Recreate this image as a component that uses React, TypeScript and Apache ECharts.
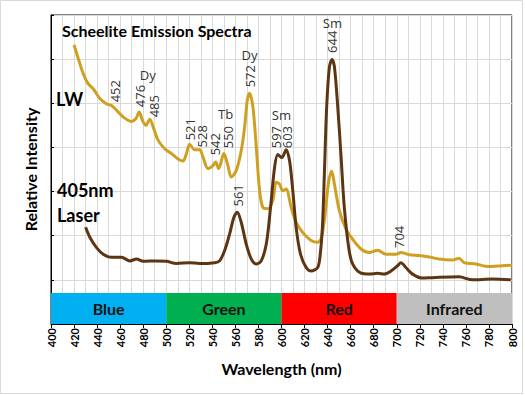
import React, { useEffect, useRef } from "react";
import * as echarts from "echarts";

// LW (long-wave UV) emission spectrum
const lwWavelength = [420, 423.7, 428, 432, 436.6, 442.4, 448, 452.5, 457, 462.6, 469.8, 473.6, 476.5, 479.4, 482.3, 485.7, 489.2, 493, 498.7, 504.5, 510.2, 514.6, 517.5, 520.3, 524.7, 529, 531.9, 536.2, 540.5, 542.9, 545.5, 550, 553.5, 556.4, 560.8, 565.1, 568, 570.3, 572.3, 575.2, 578.1, 581, 583.8, 588.1, 592.5, 595.4, 598.3, 601.1, 604, 608.4, 612.7, 618.5, 625.7, 631.4, 634.5, 637.2, 641, 643.6, 645.9, 650.2, 656, 661.7, 669, 676.2, 683.4, 690.6, 699.3, 703.6, 710.8, 719.5, 728, 736.8, 748.3, 754.1, 758.4, 768.6, 780, 791.6, 800];
const lwIntensity = [5.32, 5.01, 4.67, 4.45, 4.33, 4.11, 3.99, 3.95, 3.84, 3.69, 3.59, 3.65, 3.8, 3.61, 3.5, 3.64, 3.42, 3.16, 2.97, 2.86, 2.74, 2.69, 2.86, 3.07, 2.95, 2.95, 2.78, 2.52, 2.59, 2.67, 2.52, 2.86, 2.59, 2.33, 2.48, 2.93, 3.46, 4.07, 4.23, 3.92, 3.01, 2.02, 1.64, 1.61, 1.8, 2.21, 2.17, 2.02, 2.06, 1.64, 1.3, 1.07, 0.89, 0.85, 0.95, 1.34, 2.25, 2.46, 2.17, 1.57, 1.15, 0.92, 0.7, 0.62, 0.67, 0.58, 0.58, 0.62, 0.57, 0.55, 0.52, 0.47, 0.45, 0.49, 0.39, 0.36, 0.3, 0.32, 0.33];

// 405nm laser emission spectrum
const laserWavelength = [430, 433.8, 439.5, 445.3, 452.5, 461.2, 468.4, 474.2, 479.9, 491.5, 500.2, 508.8, 520.3, 529, 542, 546.3, 550.6, 555, 558.7, 561.6, 565.1, 569.4, 573.8, 578.1, 582.4, 586.8, 590.5, 594, 596.8, 600.3, 604, 607, 609.8, 612.7, 616.5, 621.4, 625.7, 631.4, 633.5, 635.5, 637.2, 639.2, 641.6, 643.9, 645.9, 648.8, 651.7, 654.5, 658.3, 661.7, 669, 676.2, 683.4, 689.2, 695, 700.7, 703.6, 707.9, 713.7, 722.3, 731, 754, 765.6, 783, 799];
const laserIntensity = [1.19, 0.96, 0.73, 0.58, 0.51, 0.51, 0.43, 0.47, 0.42, 0.43, 0.42, 0.37, 0.39, 0.37, 0.39, 0.43, 0.66, 1.04, 1.42, 1.53, 1.3, 0.81, 0.47, 0.36, 0.43, 0.81, 1.64, 2.55, 2.84, 2.77, 2.95, 2.7, 2.02, 1.19, 0.58, 0.28, 0.2, 0.28, 0.55, 1.19, 2.4, 3.92, 4.83, 4.99, 4.83, 3.92, 2.78, 1.64, 0.73, 0.36, 0.15, 0.13, 0.15, 0.13, 0.2, 0.32, 0.39, 0.28, 0.13, 0.04, 0.05, 0.07, 0.0, 0.02, 0.0];

// Peak wavelength labels (rotated), anchored at [wavelength, intensity]
const peakText = ["452", "476", "485", "521", "528", "542", "550", "572", "561", "597", "603", "644", "704"];
const peakNm = [455.4, 477.1, 489.2, 520.3, 530.7, 542, 553.2, 572.3, 561.9, 595.7, 605.2, 644.2, 702.2];
const peakLevel = [4.02, 3.91, 3.68, 3.16, 3.0, 2.82, 2.98, 4.36, 1.66, 2.98, 2.98, 5.14, 0.72];

// Element labels
const elementText = ["Dy", "Tb", "Dy", "Sm", "Sm"];
const elementNm = [484, 551.5, 572.3, 600, 644.2];
const elementLevel = [4.64, 3.75, 5.09, 3.73, 5.82];

// Colour bands
const bandNames = ["Blue", "Green", "Red", "Infrared"];
const bandStart = [400, 500, 600, 700];
const bandEnd = [500, 600, 700, 800];
const bandColors = ["#00B0F0", "#00B050", "#FF0000", "#BFBFBF"];
const bandBottom = -1;
const bandTop = -0.3;

const FONT = "Lato, 'Open Sans', sans-serif";
const LABEL_FONT = "'Noto Sans', 'Open Sans', sans-serif";

export default function App() {
  const ref = useRef<HTMLDivElement>(null);
  useEffect(() => {
    if (!ref.current) return;
    const chart = echarts.init(ref.current, null, { renderer: "svg" });
    const zip = (a: number[], b: number[]) => a.map((x, i) => [x, b[i]]);
    const option: any = {
      animation: false,
      textStyle: { fontFamily: FONT },
      grid: {
        left: 51,
        right: 13,
        top: 15,
        bottom: 71,
        show: true,
        borderColor: "#000",
        borderWidth: 1,
        backgroundColor: "#fff",
      },
      xAxis: {
        type: "value",
        min: 400,
        max: 800,
        interval: 20,
        name: "Wavelength (nm)",
        nameLocation: "middle",
        nameGap: 36,
        nameTextStyle: { fontSize: 16, fontWeight: "bold", color: "#000", fontFamily: FONT },
        axisLine: { show: true, onZero: false, lineStyle: { color: "#000" } },
        axisTick: { show: true, inside: false, length: 4, lineStyle: { color: "#000" } },
        axisLabel: { rotate: 90, fontSize: 11, fontWeight: "bold", color: "#000", margin: 4, fontFamily: FONT },
        splitLine: { show: true, lineStyle: { color: "#D9D9D9", width: 1 } },
        minorTick: { show: false, splitNumber: 2 },
        minorSplitLine: { show: true, lineStyle: { color: "#D9D9D9", width: 1 } },
      },
      yAxis: {
        type: "value",
        min: -1,
        max: 6,
        interval: 1,
        name: "Relative Intensity",
        nameLocation: "middle",
        nameGap: 13,
        nameTextStyle: { fontSize: 16, fontWeight: "bold", color: "#000", fontFamily: FONT },
        axisLine: { show: true, onZero: false, lineStyle: { color: "#000" } },
        axisTick: { show: true, inside: true, length: 3, lineStyle: { color: "#000" } },
        axisLabel: { show: false },
        splitLine: { show: true, lineStyle: { color: "#D9D9D9", width: 1 } },
      },
      series: [
        {
          type: "line",
          name: "bands",
          data: [],
          silent: true,
          markArea: {
            silent: true,
            data: bandNames.map((n, i) => [
              {
                name: n,
                xAxis: bandStart[i],
                yAxis: bandBottom,
                itemStyle: { color: bandColors[i], opacity: 1 },
              },
              { xAxis: bandEnd[i], yAxis: bandTop },
            ]),
            label: {
              show: true,
              position: "inside",
              fontSize: 16,
              fontWeight: "bold",
              color: "#111",
              fontFamily: FONT,
            },
          },
        },
        {
          type: "line",
          name: "LW",
          data: zip(lwWavelength, lwIntensity),
          showSymbol: false,
          symbol: "none",
          smooth: 0.3,
          lineStyle: { color: "#CFA020", width: 3 },
          z: 3,
        },
        {
          type: "line",
          name: "405nm Laser",
          data: zip(laserWavelength, laserIntensity),
          showSymbol: false,
          symbol: "none",
          smooth: 0.3,
          lineStyle: { color: "#5E3512", width: 3 },
          z: 4,
        },
        {
          type: "scatter",
          name: "peaks",
          symbolSize: 0.1,
          itemStyle: { color: "rgba(0,0,0,0)" },
          data: peakNm.map((x, i) => ({ value: [x, peakLevel[i]], name: peakText[i] })),
          label: {
            show: true,
            position: [0, 0],
            rotate: 90,
            align: "left",
            verticalAlign: "middle",
            formatter: (p: any) => p.name,
            fontSize: 13,
            color: "#000",
            fontFamily: LABEL_FONT,
          },
          z: 5,
        },
        {
          type: "scatter",
          name: "elements",
          symbolSize: 0.1,
          itemStyle: { color: "rgba(0,0,0,0)" },
          data: elementNm.map((x, i) => ({ value: [x, elementLevel[i]], name: elementText[i] })),
          label: {
            show: true,
            position: [0, 0],
            align: "center",
            verticalAlign: "middle",
            formatter: (p: any) => p.name,
            fontSize: 13,
            color: "#000",
            fontFamily: LABEL_FONT,
          },
          z: 5,
        },
      ],
      graphic: [
        {
          type: "rect",
          shape: { x: 0.5, y: 0.5, width: 522, height: 393 },
          style: { fill: "none", stroke: "#D9D9D9", lineWidth: 1 },
          silent: true,
          z: -10,
        },
        {
          type: "text",
          x: 62,
          y: 30,
          style: {
            text: "Scheelite Emission Spectra",
            font: `bold 16px ${FONT}`,
            fill: "#000",
            verticalAlign: "middle",
          },
          z: 10,
        },
        {
          type: "text",
          x: 56,
          y: 99,
          style: { text: "LW", font: `bold 18px ${FONT}`, fill: "#000", verticalAlign: "middle" },
          z: 10,
        },
        {
          type: "text",
          x: 57,
          y: 190,
          style: { text: "405nm", font: `bold 18px ${FONT}`, fill: "#000", verticalAlign: "middle" },
          z: 10,
        },
        {
          type: "text",
          x: 57,
          y: 215,
          style: { text: "Laser", font: `bold 18px ${FONT}`, fill: "#000", verticalAlign: "middle" },
          z: 10,
        },
      ],
    };
    chart.setOption(option);
    return () => chart.dispose();
  }, []);
  return (
    <div
      ref={ref}
      style={{ position: "fixed", left: 0, top: 0, width: 525, height: 395, background: "#fff" }}
    />
  );
}
